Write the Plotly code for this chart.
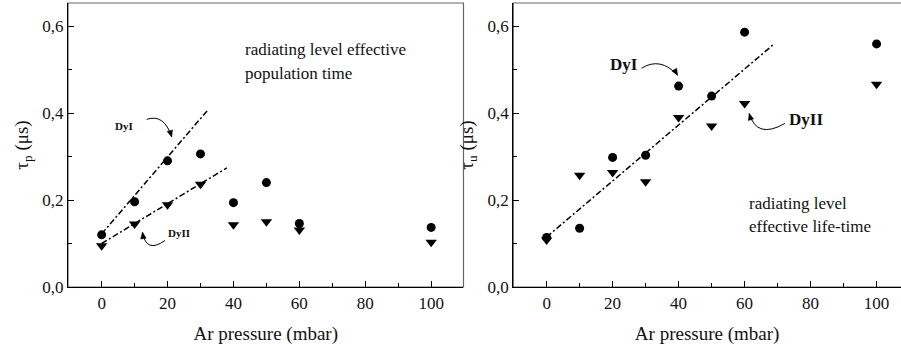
import math
import plotly.graph_objects as go

# ---------------- data ----------------
pressure = [0, 10, 20, 30, 40, 50, 60, 100]

# left panel: effective population time tau_p (us)
tau_p_dy1 = [0.120, 0.196, 0.290, 0.306, 0.194, 0.240, 0.146, 0.137]
tau_p_dy2 = [0.095, 0.145, 0.189, 0.236, 0.143, 0.150, 0.131, 0.103]

# right panel: effective life-time tau_u (us)
tau_u_dy1 = [0.114, 0.135, 0.298, 0.303, 0.462, 0.439, 0.586, 0.559]
tau_u_dy2 = [0.108, 0.257, 0.263, 0.242, 0.390, 0.370, 0.422, 0.466]

# dash-dot fit lines (x endpoints, y endpoints)
fit_p_dy1_x = [0, 32]
fit_p_dy1_y = [0.122, 0.405]
fit_p_dy2_x = [0, 38]
fit_p_dy2_y = [0.100, 0.274]
fit_u_x = [0, 68.5]
fit_u_y = [0.115, 0.556]

y_ticks = [0.0, 0.2, 0.4, 0.6]
y_tick_labels = ["0,0", "0,2", "0,4", "0,6"]
x_ticks = [0, 20, 40, 60, 80, 100]
x_tick_labels = ["0", "20", "40", "60", "80", "100"]

# curved label arrows: (start, control, end) in data units, and head direction (screen, y up)
arrows_left = [
    ((13.67, 0.3855), (18.98, 0.399), (21.26, 0.345), (0.3, -1)),
    ((19.22, 0.107), (13.53, 0.076), (12.39, 0.126), (-0.15, 1)),
]
arrows_right = [
    ((28.79, 0.503), (34.42, 0.530), (39.7, 0.487), (0.6, -1)),
    ((72.2, 0.376), (63.68, 0.339), (61.4, 0.399), (-0.28, 1)),
]

FONT = "Liberation Serif"
INK = "#111111"

fig = go.Figure()

def add_markers(x, y, xa, ya, symbol, size):
    fig.add_trace(go.Scatter(x=x, y=y, mode="markers", xaxis=xa, yaxis=ya,
                             marker=dict(symbol=symbol, size=size, color="black",
                                         line=dict(width=0)),
                             showlegend=False, hoverinfo="skip"))

def add_line(x, y, xa, ya):
    fig.add_trace(go.Scatter(x=x, y=y, mode="lines", xaxis=xa, yaxis=ya,
                             line=dict(color="black", width=1.5, dash="6px,2.5px,2px,2.5px"),
                             showlegend=False, hoverinfo="skip"))

add_line(fit_p_dy1_x, fit_p_dy1_y, "x", "y")
add_line(fit_p_dy2_x, fit_p_dy2_y, "x", "y")
add_markers(pressure, tau_p_dy1, "x", "y", "circle", 9)
add_markers(pressure, tau_p_dy2, "x", "y", "triangle-down", 10)

add_line(fit_u_x, fit_u_y, "x2", "y2")
add_markers(pressure, tau_u_dy1, "x2", "y2", "circle", 9)
add_markers(pressure, tau_u_dy2, "x2", "y2", "triangle-down", 10)

axis_common = dict(
    showgrid=False, zeroline=False, showline=True, linecolor="black", linewidth=1.2,
    ticks="inside", ticklen=6, tickwidth=1, tickcolor="black",
    tickfont=dict(family=FONT, size=17, color=INK),
)

title_font = dict(family=FONT, size=19, color=INK)

fig.update_layout(
    width=901, height=345,
    margin=dict(l=0, r=0, t=3, b=58),
    paper_bgcolor="white", plot_bgcolor="white",
    xaxis=dict(domain=[0.0755, 0.5144], range=[-10.2, 109.8], anchor="y",
               tickvals=x_ticks, ticktext=x_tick_labels,
               minor=dict(ticks="inside", ticklen=4, tickcolor="black", dtick=10),
               title=dict(text="Ar pressure (mbar)", font=title_font, standoff=17),
               **axis_common),
    yaxis=dict(domain=[0, 1], range=[0, 0.653], anchor="x",
               tickvals=y_ticks, ticktext=y_tick_labels,
               minor=dict(ticks="inside", ticklen=4, tickcolor="black", dtick=0.1),
               title=dict(text="τ<sub>p</sub> (μs)", font=title_font, standoff=8),
               **axis_common),
    xaxis2=dict(domain=[0.5697, 1.0], range=[-10.1, 107.4], anchor="y2",
                tickvals=x_ticks, ticktext=x_tick_labels,
                minor=dict(ticks="inside", ticklen=4, tickcolor="black", dtick=10),
                title=dict(text="Ar pressure (mbar)", font=title_font, standoff=17),
                **axis_common),
    yaxis2=dict(domain=[0, 1], range=[0, 0.653], anchor="x2",
                tickvals=y_ticks, ticktext=y_tick_labels,
                minor=dict(ticks="inside", ticklen=4, tickcolor="black", dtick=0.1),
                title=dict(text="τ<sub>u</sub> (μs)", font=title_font, standoff=8),
                **axis_common),
)

# gray frame boxes
for xr, yr, x1 in [("x domain", "y domain", 1), ("x2 domain", "y2 domain", 1.03)]:
    fig.add_shape(type="rect", xref=xr, yref=yr, x0=0, x1=x1, y0=0, y1=1,
                  line=dict(color="#666666", width=1.2), layer="below")

def add_curved(arrows, xa, ya):
    for (p0, c, p1, d) in arrows:
        path = f"M {p0[0]},{p0[1]} Q {c[0]},{c[1]} {p1[0]},{p1[1]}"
        fig.add_shape(type="path", path=path, xref=xa, yref=ya,
                      line=dict(color="black", width=1))
        # arrowhead as a small pixel-sized triangle anchored at the tip
        n = math.hypot(*d)
        dx, dy = d[0] / n, d[1] / n
        L, W = 6.5, 2.8
        bx, by = -dx * L, -dy * L
        px, py = -dy * W, dx * W
        head = (f"M 0,0 L {bx + px:.2f},{by + py:.2f} "
                f"L {bx - px:.2f},{by - py:.2f} Z")
        fig.add_shape(type="path", path=head, xref=xa, yref=ya,
                      xsizemode="pixel", ysizemode="pixel",
                      xanchor=p1[0], yanchor=p1[1],
                      line=dict(color="black", width=0.5), fillcolor="black")

add_curved(arrows_left, "x", "y")
add_curved(arrows_right, "x2", "y2")

def txt(x, y, xa, ya, s, size, bold=False, xanchor="left"):
    fig.add_annotation(x=x, y=y, xref=xa, yref=ya, text=s,
                       showarrow=False, xanchor=xanchor, yanchor="middle",
                       font=dict(family=FONT, size=size, color=INK,
                                 weight="bold" if bold else "normal"),
                       align="left")

# panel notes
txt(42.9, 0.545, "x", "y", "radiating level effective", 17)
txt(42.9, 0.492, "x", "y", "population time", 17)
txt(60.6, 0.193, "x2", "y2", "radiating level", 17)
txt(60.6, 0.139, "x2", "y2", "effective life-time", 17)

# series labels
txt(6.8, 0.370, "x", "y", "DyI", 11, bold=True, xanchor="center")
txt(23.5, 0.124, "x", "y", "DyII", 11, bold=True, xanchor="center")
txt(23.6, 0.511, "x2", "y2", "DyI", 17, bold=True, xanchor="center")
txt(78.6, 0.384, "x2", "y2", "DyII", 17, bold=True, xanchor="center")

fig.write_html("out.html")
